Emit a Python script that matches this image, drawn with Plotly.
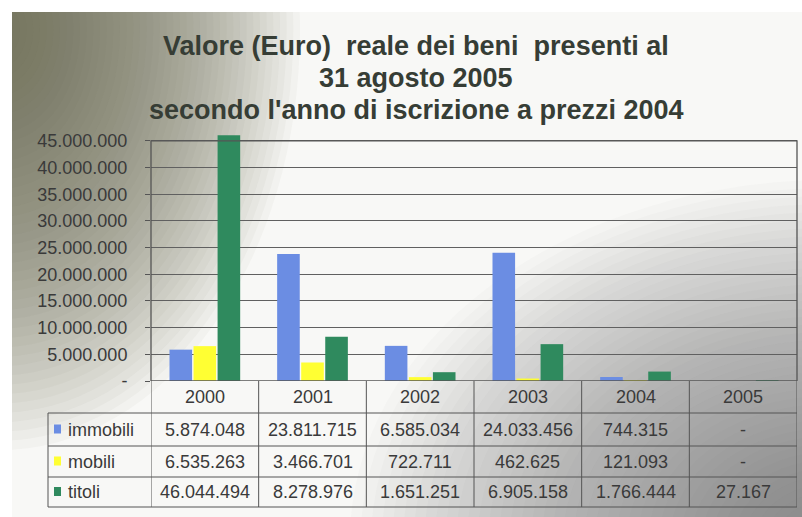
import plotly.graph_objects as go

# ---------------- data ----------------
years = ['2000', '2001', '2002', '2003', '2004', '2005']
series_names = ['immobili', 'mobili', 'titoli']
immobili = [5874048, 23811715, 6585034, 24033456, 744315, 0]
mobili = [6535263, 3466701, 722711, 462625, 121093, 0]
titoli = [46044494, 8278976, 1651251, 6905158, 1766444, 27167]
series_colors = ['#6b8de3', '#ffff33', '#2f8a5e']
tick_values = [0, 5e6, 10e6, 15e6, 20e6, 25e6, 30e6, 35e6, 40e6, 45e6]
tick_labels = ['-', '5.000.000', '10.000.000', '15.000.000', '20.000.000',
               '25.000.000', '30.000.000', '35.000.000', '40.000.000', '45.000.000']
title_lines = ["Valore (Euro) \u00a0reale dei beni \u00a0presenti al",
               "31 agosto 2005",
               "secondo l'anno di iscrizione a prezzi 2004"]

series_values = [immobili, mobili, titoli]

W, H = 802, 517
FONT = "Liberation Sans, Arial, sans-serif"
TXT = '#3a3a3a'
LINE = '#555555'


def fx(px):
    return px / W


def fy(py):
    return 1 - py / H


def fmt(v):
    if v == 0:
        return '-'
    return f"{v:,}".replace(',', '.')


fig = go.Figure()
# invisible anchor trace for the background (scan) subplot, pixel coordinates
fig.add_trace(go.Scatter(x=[12, 802], y=[12, 517], mode='markers', marker=dict(opacity=0),
                         hoverinfo='skip', showlegend=False, xaxis='x', yaxis='y'))
for name, vals, col in zip(series_names, series_values, series_colors):
    fig.add_trace(go.Bar(x=years, y=vals, name=name, marker=dict(color=col, line=dict(width=0)),
                         showlegend=False, xaxis='x2', yaxis='y2'))

shapes = []
# base background of the photographed slide
shapes.append(dict(type='rect', xref='x', yref='y', x0=12, x1=802, y0=12, y1=517,
                   fillcolor='#f8f8f6', line_width=0, layer='below'))


def blob(cx, cy, rx, ry, rgb, max_alpha, n=45):
    a = 1 - (1 - max_alpha) ** (1 / n)
    out = []
    for i in range(n):
        f = 1 - i / n
        out.append(dict(type='circle', xref='x', yref='y',
                        x0=cx - rx * f, x1=cx + rx * f,
                        y0=cy - ry * f, y1=cy + ry * f,
                        fillcolor=f'rgba({rgb[0]},{rgb[1]},{rgb[2]},{a:.4f})',
                        line_width=0, layer='below'))
    return out


shapes += blob(0, 30, 300, 420, (92, 100, 86), 0.82)
shapes += blob(830, 540, 480, 360, (120, 120, 118), 0.7)

# plot frame
shapes.append(dict(type='rect', xref='x2 domain', yref='y2', x0=0, x1=1, y0=0, y1=tick_values[-1],
                   line=dict(color=LINE, width=1.3), layer='above'))

# table grid (pixel rows on the background axis, columns on the category axis)
row_lines = [413, 446, 477, 507]
for py in row_lines:
    shapes.append(dict(type='line', xref='x', yref='y', x0=48, x1=797,
                       y0=py, y1=py, line=dict(color=LINE, width=1)))
shapes.append(dict(type='line', xref='x', yref='y', x0=48, x1=48,
                   y0=413, y1=507, line=dict(color=LINE, width=1)))
for i in range(len(years) + 1):
    shapes.append(dict(type='line', xref='x2', yref='paper', x0=i - 0.5, x1=i - 0.5,
                       y0=fy(381), y1=fy(507), line=dict(color=LINE, width=1)))

annotations = []
# header row
for i, yr in enumerate(years):
    annotations.append(dict(x=i, xref='x2', y=fy(397), yref='paper', text=yr, showarrow=False,
                            xanchor='center', yanchor='middle',
                            font=dict(family=FONT, size=18, color=TXT)))
row_centers = [429.5, 461.5, 492]
for name, vals, col, rc in zip(series_names, series_values, series_colors, row_centers):
    shapes.append(dict(type='rect', xref='x', yref='y', x0=54, x1=61,
                       y0=rc - 5, y1=rc + 4, fillcolor=col, line_width=0))
    annotations.append(dict(x=fx(66), xref='paper', y=fy(rc), yref='paper', text=name,
                            showarrow=False, xanchor='left', yanchor='middle',
                            font=dict(family=FONT, size=18, color=TXT)))
    for i, v in enumerate(vals):
        annotations.append(dict(x=i, xref='x2', y=fy(rc), yref='paper', text=fmt(v),
                                showarrow=False, xanchor='center', yanchor='middle',
                                font=dict(family=FONT, size=18, color=TXT)))

# title
for line, py in zip(title_lines, [46, 78, 110]):
    annotations.append(dict(x=fx(416), xref='paper', y=fy(py), yref='paper', text=line,
                            showarrow=False, xanchor='center', yanchor='middle',
                            font=dict(family=FONT, size=27, color='#363d35', weight='bold')))

fig.update_layout(
    width=W, height=H,
    margin=dict(l=0, r=0, t=0, b=0, autoexpand=False),
    paper_bgcolor='white',
    plot_bgcolor='rgba(0,0,0,0)',
    barmode='group', bargap=0.33, bargroupgap=0.06,
    xaxis=dict(domain=[fx(12), 1], range=[12, 802], visible=False, fixedrange=True),
    yaxis=dict(domain=[0, fy(12)], range=[517, 12], visible=False, fixedrange=True),
    xaxis2=dict(domain=[fx(151), fx(797)], type='category', range=[-0.5, 5.5], anchor='y2',
                showticklabels=False, showline=False, showgrid=False, ticks='', zeroline=False),
    yaxis2=dict(domain=[fy(381), fy(135)], range=[0, 46.1e6], tickmode='array', anchor='x2',
                tickvals=tick_values, ticktext=tick_labels, showgrid=True,
                gridcolor='#606060', gridwidth=1, showline=False, zeroline=False,
                ticks='outside', ticklen=5, tickcolor=LINE, ticklabelstandoff=14,
                tickfont=dict(family=FONT, size=18, color=TXT)),
    shapes=shapes,
    annotations=annotations,
    font=dict(family=FONT, color=TXT),
)

fig.write_html(
    "out.html",
    config={'displayModeBar': False},
    post_script="document.body.style.margin='0px';",
)
